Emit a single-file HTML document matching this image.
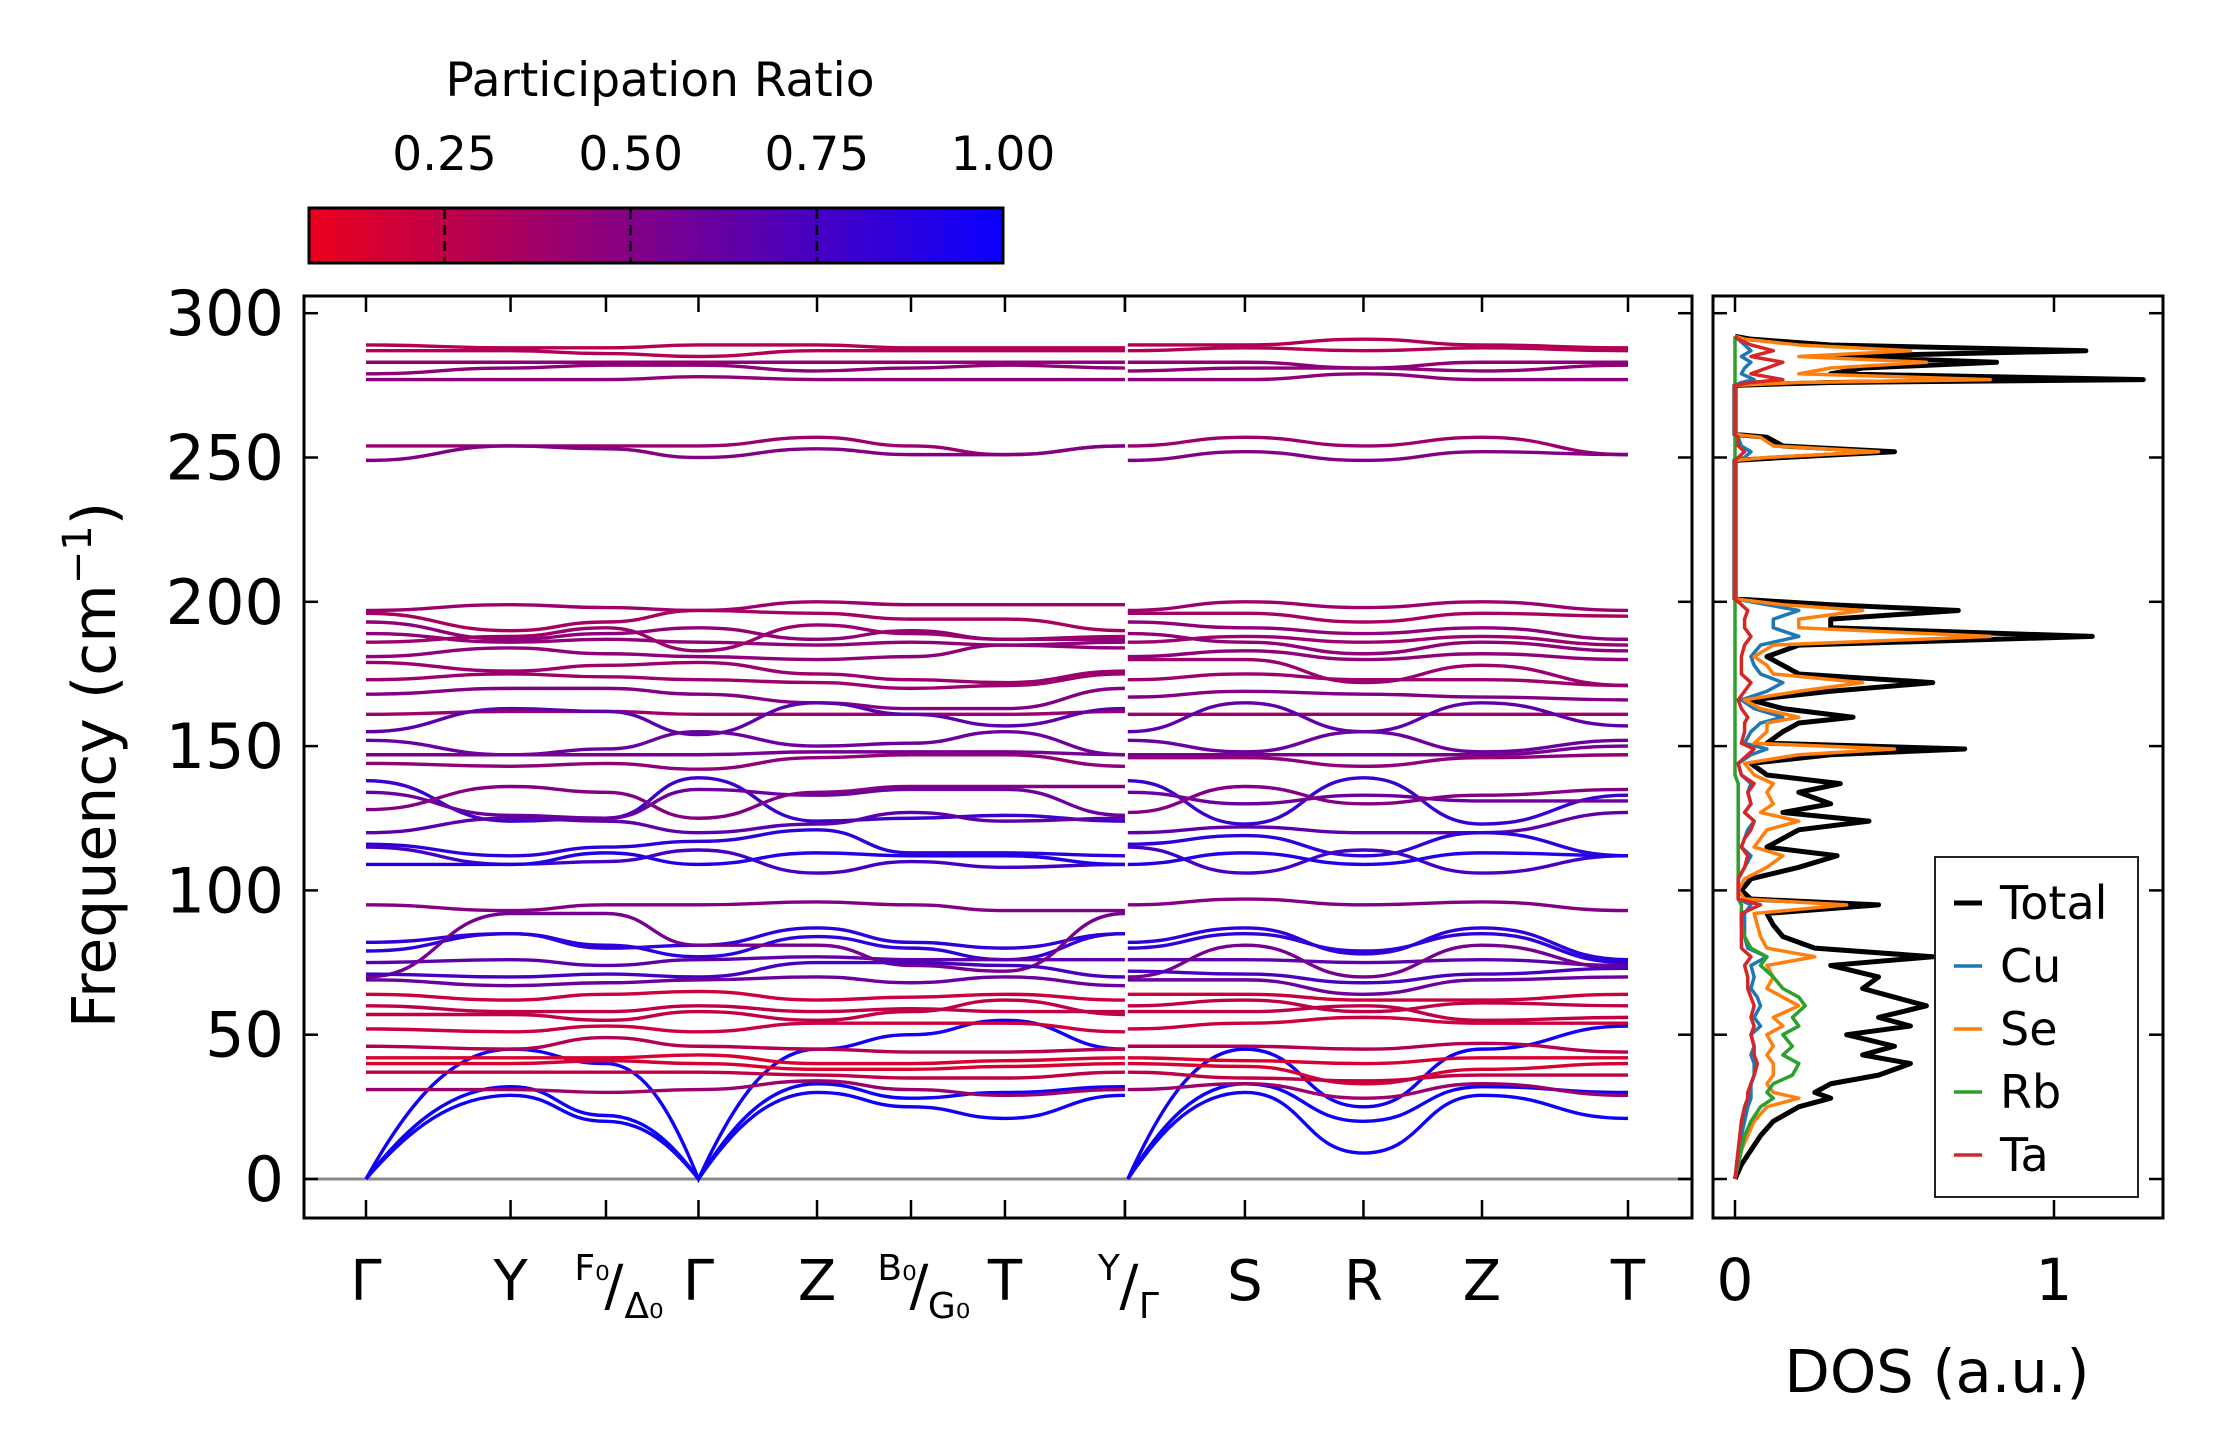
<!DOCTYPE html>
<html><head><meta charset="utf-8">
<style>
html,body{margin:0;padding:0;background:#fff;}
svg{display:block;font-family:"DejaVu Sans","Liberation Sans",sans-serif;}
</style></head>
<body>
<svg id="fig" width="2222" height="1455" viewBox="0 0 2222 1455" xmlns="http://www.w3.org/2000/svg">
<defs>
<linearGradient id="cmap" x1="0" x2="1" y1="0" y2="0">
<stop offset="0" stop-color="rgb(235,0,28)"/><stop offset="1" stop-color="rgb(10,0,255)"/>
</linearGradient>
<clipPath id="mainclip"><rect x="304" y="296" width="1388" height="922"/></clipPath>
<clipPath id="dosclip"><rect x="1713" y="296" width="450" height="922"/></clipPath>
</defs>
<g id="colorbar">
<text x="660" y="96" font-size="47" text-anchor="middle">Participation Ratio</text>
<rect x="309" y="208" width="694" height="55" fill="url(#cmap)" stroke="#000" stroke-width="3"/>
</g>
<g id="main"></g>
<g id="dos"></g>
</svg>
<script>
const NS="http://www.w3.org/2000/svg";
// ---- data ----
const kPos=[0,1,1.66,2.3,3.12,3.77,4.42,5.25,5.25,6.08,6.9,7.72,8.73];
const yTicks=[0,50,100,150,200,250,300];
const cbTicks=[0.25,0.5,0.75,1.0];
const cbLabels=["0.25","0.50","0.75","1.00"];
// bands: values at Γ,Y,F0,Γ,Z,B0,T | Γ,S,R,Z,T  (path 1 ends at Y again)
const bands=[
[0,29,20,0,30,25,21,0,30,9,29,21],
[0,32,22,0,33,28,30,0,33,20,32,30],
[0,45,40,0,45,50,55,0,45,25,45,53],
[289,288,288,289,289,288,288,289,289,291,289,288],
[287,287,286,285,287,287,287,287,288,287,288,287],
[283,283,283,283,283,283,283,283,283,281,283,283],
[279,281,282,282,280,281,282,280,281,281,280,282],
[277,277,277,278,277,277,277,277,277,279,277,277],
[254,254,254,254,257,254,251,254,257,254,257,251],
[249,254,253,250,253,251,251,249,252,249,252,251],
[197,199,198,197,200,199,199,197,200,198,200,197],
[196,190,193,197,196,194,194,196,196,193,196,195],
[193,187,189,191,187,190,187,193,191,189,191,187],
[189,186,187,186,185,186,185,189,186,182,186,183],
[186,188,191,183,192,189,187,186,188,186,188,185],
[181,184,182,181,180,181,185,181,183,180,182,180],
[179,176,178,179,175,173,172,180,180,172,178,171],
[173,175,174,173,172,170,171,173,175,173,173,171],
[168,170,170,168,165,163,163,167,169,168,167,166],
[161,162,162,161,161,161,161,161,161,161,161,161],
[155,163,162,154,165,161,157,155,165,155,165,157],
[152,147,149,155,150,151,155,152,148,155,148,152],
[147,147,147,147,148,148,148,147,147,147,147,150],
[144,143,144,142,146,147,147,146,146,143,146,147],
[138,124,125,139,124,125,126,138,123,139,123,133],
[134,126,125,135,133,135,135,134,130,133,131,131],
[128,136,134,125,134,136,136,127,136,130,133,135],
[120,125,124,120,123,127,124,120,122,120,120,127],
[116,112,115,117,121,113,113,116,119,112,120,112],
[115,109,110,114,106,110,108,115,106,114,106,112],
[109,109,113,109,113,112,112,109,113,109,113,112],
[95,93,95,95,96,95,93,95,97,95,96,93],
[82,85,80,81,87,82,80,82,87,78,87,76],
[79,85,81,77,84,80,76,80,85,79,85,75],
[75,76,74,76,77,76,76,76,76,75,76,74],
[70,92,92,81,81,74,72,70,81,70,81,73],
[71,70,71,70,75,75,74,72,71,68,71,73],
[69,67,68,69,70,68,70,69,69,64,69,70],
[64,62,64,65,62,63,64,64,64,62,62,64],
[60,58,58,60,58,59,58,60,62,58,61,60],
[57,57,55,58,55,58,62,58,58,60,55,56],
[52,51,53,51,54,54,54,52,54,56,54,54],
[46,45,49,46,45,44,44,46,46,45,47,44],
[42,42,42,43,40,40,41,42,41,40,42,42],
[40,40,41,40,38,38,39,40,39,33,38,40],
[37,37,37,37,36,35,35,37,35,34,36,36],
[31,31,30,31,34,31,29,31,33,28,33,29]
];
const bandPR=[0.98,0.98,0.97,0.3,0.3,0.45,0.45,0.45,0.4,0.5,0.4,0.35,0.45,0.45,0.4,0.45,0.4,0.4,0.5,0.4,0.65,0.6,0.55,0.45,0.8,0.6,0.5,0.65,0.85,0.75,0.9,0.5,0.85,0.85,0.65,0.55,0.75,0.6,0.2,0.25,0.25,0.2,0.3,0.15,0.15,0.25,0.4];
// DOS
const dosFreq=[0,5,10,15,20,25,28,30,33,36,40,43,46,50,53,56,60,63,66,70,74,77,80,84,88,92,95,97,100,104,108,112,115,118,121,124,127,130,134,137,140,144,147,149,151,155,158,160,163,166,169,172,175,178,181,185,188,191,194,197,199,201,249,250,252,254,257,258,275,276,277,279,281,283,285,287,289,291,292];
const dosTotal=[0,0.02,0.05,0.08,0.12,0.2,0.3,0.25,0.3,0.45,0.55,0.4,0.5,0.35,0.55,0.45,0.6,0.5,0.4,0.45,0.3,0.62,0.25,0.15,0.12,0.1,0.45,0.05,0.02,0.05,0.2,0.32,0.1,0.15,0.2,0.42,0.15,0.3,0.2,0.33,0.1,0.05,0.3,0.72,0.1,0.15,0.2,0.37,0.15,0.05,0.3,0.62,0.2,0.15,0.1,0.2,1.12,0.3,0.3,0.7,0.3,0,0,0.15,0.5,0.15,0.1,0,0,0.3,1.28,0.3,0.4,0.82,0.3,1.1,0.3,0.05,0];
const dosCu=[0,0.005,0.01,0.02,0.03,0.04,0.05,0.05,0.05,0.06,0.06,0.05,0.06,0.05,0.08,0.06,0.08,0.07,0.05,0.06,0.05,0.1,0.04,0.03,0.03,0.03,0.05,0.01,0.01,0.01,0.03,0.05,0.02,0.03,0.04,0.06,0.03,0.05,0.04,0.05,0.02,0.01,0.05,0.1,0.03,0.05,0.08,0.15,0.06,0.02,0.1,0.15,0.08,0.06,0.05,0.08,0.2,0.12,0.12,0.2,0.1,0,0,0.03,0.05,0.02,0.01,0,0,0.02,0.06,0.02,0.03,0.05,0.02,0.05,0.03,0.01,0];
const dosSe=[0,0.01,0.02,0.04,0.06,0.1,0.2,0.12,0.1,0.12,0.12,0.1,0.12,0.1,0.15,0.12,0.2,0.15,0.1,0.12,0.1,0.25,0.1,0.08,0.07,0.06,0.35,0.03,0.01,0.03,0.1,0.15,0.06,0.08,0.1,0.2,0.08,0.12,0.1,0.12,0.06,0.03,0.2,0.5,0.06,0.1,0.1,0.2,0.08,0.03,0.2,0.4,0.12,0.1,0.06,0.12,0.8,0.2,0.2,0.4,0.15,0,0,0.1,0.45,0.12,0.08,0,0,0.2,0.8,0.2,0.3,0.6,0.2,0.55,0.2,0.03,0];
const dosRb=[0,0.01,0.02,0.03,0.05,0.08,0.12,0.1,0.12,0.18,0.2,0.15,0.18,0.15,0.2,0.18,0.22,0.2,0.15,0.12,0.08,0.1,0.05,0.03,0.02,0.02,0.02,0.01,0.01,0.01,0.01,0.01,0.01,0.01,0.01,0.01,0.01,0.01,0.01,0.01,0,0,0,0,0,0,0,0,0,0,0,0,0,0,0,0,0,0,0,0,0,0,0,0,0,0,0,0,0,0,0,0,0,0,0,0,0,0,0];
const dosTa=[0,0.005,0.01,0.015,0.02,0.03,0.04,0.04,0.05,0.06,0.07,0.06,0.06,0.05,0.06,0.05,0.06,0.05,0.04,0.04,0.03,0.05,0.02,0.02,0.02,0.02,0.08,0.01,0.01,0.01,0.03,0.04,0.02,0.03,0.05,0.06,0.03,0.05,0.04,0.06,0.02,0.01,0.04,0.06,0.02,0.03,0.03,0.04,0.02,0.01,0.03,0.05,0.02,0.02,0.02,0.03,0.05,0.03,0.03,0.04,0.02,0,0,0.01,0.03,0.01,0.01,0,0,0.05,0.15,0.05,0.1,0.15,0.05,0.12,0.05,0.01,0];
const dosX=[0,1];
// ---- scales ----
const X0=304,X1=1692,Y0=296,Y1=1218,D0=1713,D1=2163;
function fy(v){return 1179-(v/50)*144.3;}
function fk(k){return 366+(k/8.73)*(1628-366);}
function fd(v){return 1735+v*319;}
function cbx(v){return 309+(v-0.068)/(1-0.068)*694;}
function prColor(p){const t=Math.max(0,Math.min(1,(p-0.068)/(0.932)));
 return `rgb(${Math.round(235+(10-235)*t)},0,${Math.round(28+(255-28)*t)})`;}
function el(tag,attrs,parent){const e=document.createElementNS(NS,tag);for(const k in attrs)e.setAttribute(k,attrs[k]);parent.appendChild(e);return e;}
const main=document.getElementById('main');
const dos=document.getElementById('dos');
const cb=document.getElementById('colorbar');
cbTicks.forEach((t,i)=>{
 const x=cbx(t);
 if(t<1){const ln=el('line',{x1:x,x2:x,y1:209,y2:262,stroke:'#000','stroke-width':2.5,'stroke-dasharray':'10,6'},cb);
 
 }
 const tx=el('text',{x:x,y:170,'font-size':47,'text-anchor':'middle'},cb);tx.textContent=cbLabels[i];
 
 
});
const zl=el('line',{x1:X0,x2:X1,y1:fy(0),y2:fy(0),stroke:'#888','stroke-width':3},main);


const bg=el('g',{'clip-path':'url(#mainclip)'},main);
function segPath(vals,ks){let d='';
 for(let i=0;i<vals.length-1;i++){
  const xa=fk(ks[i]),xb=fk(ks[i+1]),ya=fy(vals[i]),yb=fy(vals[i+1]);
  if(i===0)d+=`M${xa},${ya}`;
  const dx=xb-xa;
  if(vals[i]===0){d+=` C${xa+dx*0.3},${ya+(yb-ya)*0.6} ${xa+dx*0.6},${yb} ${xb},${yb}`;}
  else if(vals[i+1]===0){d+=` C${xa+dx*0.4},${ya} ${xa+dx*0.7},${yb+(ya-yb)*0.6} ${xb},${yb}`;}
  else{const m=(xa+xb)/2;d+=` C${m},${ya} ${m},${yb} ${xb},${yb}`;}
 }return d;}
bands.forEach((b,i)=>{
 const c=prColor(bandPR[i]);
 const v1=b.slice(0,7).concat([b[1]]);
 const p1=el('path',{d:segPath(v1,kPos.slice(0,8)),fill:'none',stroke:c,'stroke-width':3.4},bg);
 
 
 const k2=kPos.slice(8).slice();k2[0]=kPos[8]+0.02;
 const p2=el('path',{d:segPath(b.slice(7),k2),fill:'none',stroke:c,'stroke-width':3.4},bg);
 
 
});
const mf=el('rect',{x:X0,y:Y0,width:X1-X0,height:Y1-Y0,fill:'none',stroke:'#000','stroke-width':3},main);


yTicks.forEach(v=>{
 const y=fy(v);
 el('line',{x1:X0,x2:X0+14,y1:y,y2:y,stroke:'#000','stroke-width':2.5},main);
 el('line',{x1:X1-14,x2:X1,y1:y,y2:y,stroke:'#000','stroke-width':2.5},main);
 el('line',{x1:D0,x2:D0+14,y1:y,y2:y,stroke:'#000','stroke-width':2.5},dos);
 el('line',{x1:D1-14,x2:D1,y1:y,y2:y,stroke:'#000','stroke-width':2.5},dos);
 const t=el('text',{x:X0-20,y:y+22,'font-size':62,'text-anchor':'end'},main);t.textContent=v;
 
 
});
kPos.forEach(k=>{const x=fk(k);
 el('line',{x1:x,x2:x,y1:Y0,y2:Y0+16,stroke:'#000','stroke-width':2.5},main);
 el('line',{x1:x,x2:x,y1:Y1-18,y2:Y1,stroke:'#000','stroke-width':2.5},main);
});
function xl(x,txt,size,y){const t=el('text',{x:x,y:y,'font-size':size,'text-anchor':'middle'},main);t.textContent=txt;
 
 return t;}
xl(fk(kPos[0]),'Γ',56,1300);xl(fk(kPos[1]),'Y',56,1300);
xl(fk(kPos[2])-14,'F₀',36,1280);xl(fk(kPos[2])+8,'/',56,1305);xl(fk(kPos[2])+38,'Δ₀',36,1318);
xl(fk(kPos[3]),'Γ',56,1300);xl(fk(kPos[4]),'Z',56,1300);
xl(fk(kPos[5])-14,'B₀',36,1280);xl(fk(kPos[5])+8,'/',56,1305);xl(fk(kPos[5])+38,'G₀',36,1318);
xl(fk(kPos[6]),'T',56,1300);
xl(fk(kPos[7])-16,'Y',36,1280);xl(fk(kPos[7])+4,'/',56,1305);xl(fk(kPos[7])+24,'Γ',36,1318);
xl(fk(kPos[9]),'S',56,1300);xl(fk(kPos[10]),'R',56,1300);xl(fk(kPos[11]),'Z',56,1300);xl(fk(kPos[12]),'T',56,1300);
const yt=el('text',{x:0,y:0,'font-size':60,'text-anchor':'middle',transform:'translate(115,765) rotate(-90)'},main);
yt.innerHTML='Frequency (cm<tspan font-size="40" dy="-24">−1</tspan><tspan dy="24">)</tspan>';


const dg=el('g',{'clip-path':'url(#dosclip)'},dos);
const series=[[dosTotal,'#000',5,'dos-total'],[dosCu,'#1f77b4',3.5,'dos-cu'],[dosSe,'#ff7f0e',3.5,'dos-se'],[dosRb,'#2ca02c',3.5,'dos-rb'],[dosTa,'#d62728',3.5,'dos-ta']];
series.forEach(s=>{
 const d=s[0].map((v,i)=>(i?'L':'M')+fd(v)+','+fy(dosFreq[i])).join(' ');
 const p=el('path',{d:d,fill:'none',stroke:s[1],'stroke-width':s[2],'stroke-linejoin':'round'},dg);
 
 
});
const df=el('rect',{x:D0,y:Y0,width:D1-D0,height:Y1-Y0,fill:'none',stroke:'#000','stroke-width':3},dos);


dosX.forEach(v=>{const x=fd(v);
 el('line',{x1:x,x2:x,y1:Y0,y2:Y0+16,stroke:'#000','stroke-width':2.5},dos);
 el('line',{x1:x,x2:x,y1:Y1-18,y2:Y1,stroke:'#000','stroke-width':2.5},dos);
 const t=el('text',{x:x,y:1300,'font-size':58,'text-anchor':'middle'},dos);t.textContent=v;
 
 
});
const dt=el('text',{x:1937,y:1392,'font-size':59,'text-anchor':'middle'},dos);dt.textContent='DOS (a.u.)';


const lg=el('g',{},dos);


el('rect',{x:1935,y:857,width:203,height:340,fill:'#fff',stroke:'#222','stroke-width':2},lg);
const names=['Total','Cu','Se','Rb','Ta'];
names.forEach((n,i)=>{const y=903+i*63;const s=series[i];
 el('line',{x1:1954,x2:1982,y1:y,y2:y,stroke:s[1],'stroke-width':s[2]},lg);
 const t=el('text',{x:2000,y:y+16,'font-size':46},lg);t.textContent=n;
 
 
});
</script>
</body></html>
